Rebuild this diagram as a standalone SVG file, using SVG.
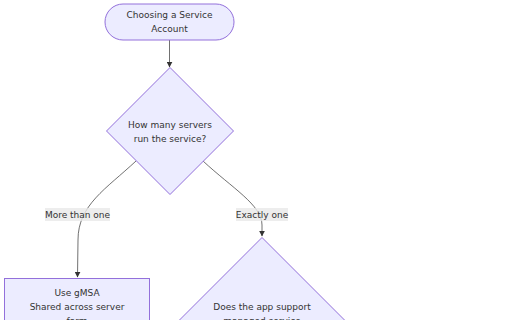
<svg xmlns="http://www.w3.org/2000/svg" width="512" height="320" viewBox="0 0 512 320">
<style>
.node{fill:#ECECFF;stroke:#9370DB;stroke-width:1}
.t{font-family:"DejaVu Sans",Verdana,sans-serif;font-size:9px;fill:#333;text-anchor:middle}
.edge{fill:none;stroke:#333;stroke-width:0.7}
.lbg{fill:#E8E8E8;opacity:0.8}
</style>
<defs>
<marker id="arr" viewBox="0 0 10 10" refX="9" refY="5" markerWidth="6" markerHeight="6" markerUnits="userSpaceOnUse" orient="auto">
<path d="M0,0 L10,5 L0,10 z" fill="#333"/>
</marker>
</defs>
<rect width="512" height="320" fill="#fff"/>
<g id="connectors">
<path class="edge" d="M169.5,40 L169.5,67" marker-end="url(#arr)"/>
<path class="edge" d="M136,161 C106,189 78,205 78,240 L77.5,277" marker-end="url(#arr)"/>
<path class="edge" d="M203,161 C232,188 262,205 262,225 L262,236" marker-end="url(#arr)"/>
<g id="label-more">
<rect class="lbg" x="45" y="208" width="65" height="13"/>
<text class="t" x="77.5" y="217.5">More than one</text>
</g>
<g id="label-exactly">
<rect class="lbg" x="236" y="208" width="52" height="13"/>
<text class="t" x="262" y="217.5">Exactly one</text>
</g>
</g>
<g id="start">
<rect class="node" x="105" y="4" width="129" height="36" rx="18" ry="18"/>
<text class="t" x="169.5" y="18">Choosing a Service</text>
<text class="t" x="169.5" y="32">Account</text>
</g>
<g id="q1">
<polygon class="node" points="170,67.5 233.5,131 170,194.5 106.5,131"/>
<text class="t" x="170" y="128">How many servers</text>
<text class="t" x="170" y="142">run the service?</text>
</g>
<g id="gmsa">
<rect class="node" x="4.5" y="278.5" width="145" height="60"/>
<text class="t" x="77" y="296">Use gMSA</text>
<text class="t" x="77" y="310">Shared across server</text>
<text class="t" x="77" y="324">farm</text>
</g>
<g id="q2">
<polygon class="node" points="262,237.5 352,327.5 262,417.5 172,327.5"/>
<text class="t" x="262" y="310">Does the app support</text>
<text class="t" x="262" y="324">managed service</text>
</g>
</svg>
